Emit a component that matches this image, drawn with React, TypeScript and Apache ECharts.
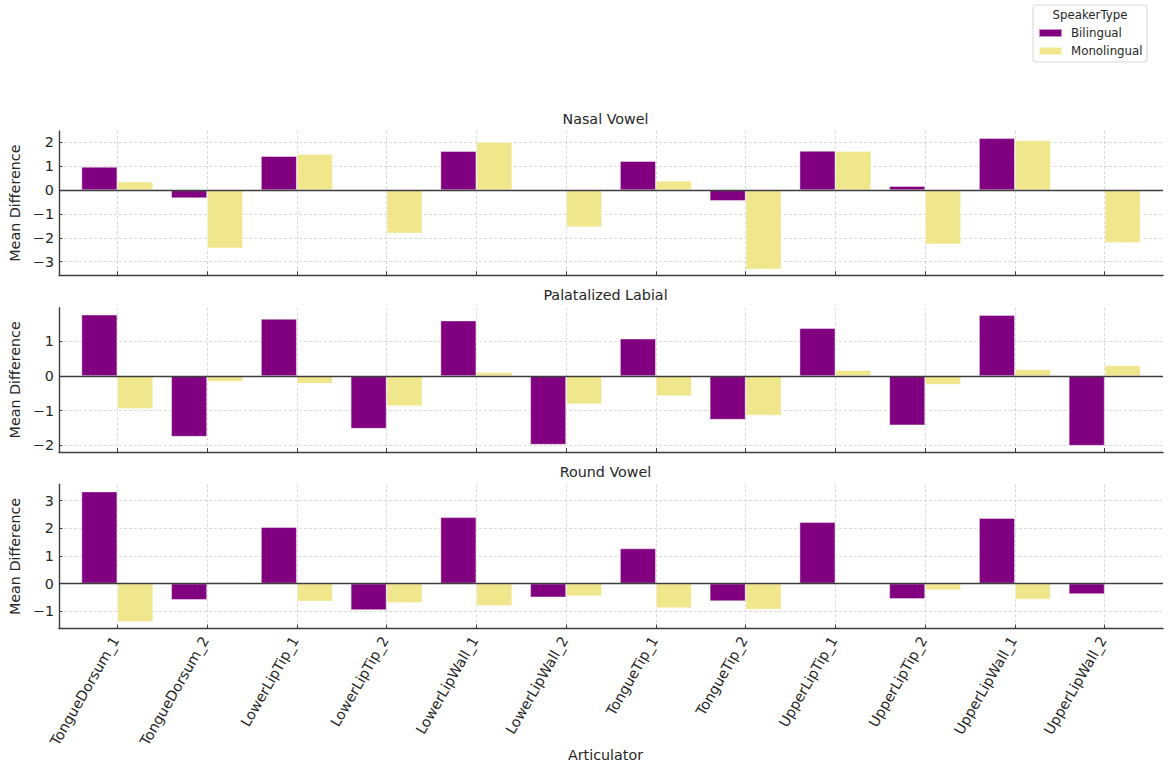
import React, { useEffect, useRef } from "react";
import * as echarts from "echarts";

const categories = [
  "TongueDorsum_1",
  "TongueDorsum_2",
  "LowerLipTip_1",
  "LowerLipTip_2",
  "LowerLipWall_1",
  "LowerLipWall_2",
  "TongueTip_1",
  "TongueTip_2",
  "UpperLipTip_1",
  "UpperLipTip_2",
  "UpperLipWall_1",
  "UpperLipWall_2",
];

const nasalBilingual = [0.98, -0.34, 1.43, -0.05, 1.64, 0.0, 1.22, -0.45, 1.65, 0.17, 2.18, 0.0];
const nasalMonolingual = [0.36, -2.44, 1.51, -1.81, 2.02, -1.55, 0.39, -3.32, 1.64, -2.27, 2.09, -2.21];

const palatalBilingual = [1.77, -1.75, 1.65, -1.52, 1.6, -1.98, 1.08, -1.26, 1.38, -1.42, 1.76, -2.01];
const palatalMonolingual = [-0.95, -0.16, -0.22, -0.87, 0.11, -0.81, -0.58, -1.14, 0.17, -0.25, 0.19, 0.31];

const roundBilingual = [3.33, -0.59, 2.04, -0.96, 2.4, -0.5, 1.27, -0.64, 2.22, -0.56, 2.37, -0.38];
const roundMonolingual = [-1.39, 0.05, -0.65, -0.7, -0.81, -0.46, -0.89, -0.94, 0.01, -0.24, -0.58, 0.0];

const panelTitles = ["Nasal Vowel", "Palatalized Labial", "Round Vowel"];
const yMins = [-3.57, -2.19, -1.63];
const yMaxs = [2.48, 1.97, 3.59];
const yTicks = [
  [-3, -2, -1, 0, 1, 2],
  [-2, -1, 0, 1],
  [-1, 0, 1, 2, 3],
];
const seriesNames = ["Bilingual", "Monolingual"];
const legendTitle = "SpeakerType";
const xAxisTitle = "Articulator";
const yAxisTitle = "Mean Difference";

const panelBilingual = [nasalBilingual, palatalBilingual, roundBilingual];
const panelMonolingual = [nasalMonolingual, palatalMonolingual, roundMonolingual];

const FONT = "DejaVu Sans";
const TEXT = "#262626";
const SPINE = "#3d3d3d";
const COLORS = ["#800080", "#F0E68C"];
const FS = 14.3;

function fmt(v: number): string {
  return v < 0 ? "\u2212" + Math.abs(v) : String(v);
}

export default function App() {
  const ref = useRef<HTMLDivElement>(null);

  useEffect(() => {
    if (!ref.current) return;
    const chart = echarts.init(ref.current, null, { renderer: "svg" });

    const gridTops = [131, 307.7, 484.3];
    const gridHeight = 144.3;
    const gridLeft = 48;
    const gridRight = 6;
    const centerX = gridLeft + (1169 - gridLeft - gridRight) / 2;
    const tickIdx = categories.map((_, i) => i);
    const gridLine = { color: "#d0d0d0", width: 0.8, type: [3, 2] as any };

    const grids: any[] = [];
    const xAxes: any[] = [];
    const yAxes: any[] = [];
    const series: any[] = [];
    const titles: any[] = [];

    for (let p = 0; p < 3; p++) {
      grids.push({ left: gridLeft, right: gridRight, top: gridTops[p], height: gridHeight });
      titles.push({
        text: panelTitles[p],
        left: centerX,
        textAlign: "center",
        top: gridTops[p] - 19.5,
        textStyle: { fontFamily: FONT, fontSize: FS, fontWeight: "normal", color: TEXT },
        padding: 0,
      });
      xAxes.push({
        type: "value",
        gridIndex: p,
        min: -0.65,
        max: 11.65,
        axisLine: { show: true, onZero: false, lineStyle: { color: SPINE, width: 1.4 } },
        axisTick: { show: true, inside: true, length: 4, customValues: tickIdx, lineStyle: { color: SPINE, width: 1 } },
        axisLabel: {
          show: p === 2,
          customValues: tickIdx,
          rotate: 60,
          margin: 6,
          padding: [0, 3.5, 12, 0],
          fontFamily: FONT,
          fontSize: FS,
          color: TEXT,
          formatter: (v: number) => categories[Math.round(v)] ?? "",
        },
        splitLine: { show: true, lineStyle: gridLine },
      });
      yAxes.push({
        type: "value",
        gridIndex: p,
        min: yMins[p],
        max: yMaxs[p],
        name: yAxisTitle,
        nameLocation: "middle",
        nameGap: 33,
        nameTextStyle: { fontFamily: FONT, fontSize: FS, color: TEXT },
        axisLine: { show: true, onZero: false, lineStyle: { color: SPINE, width: 1.4 } },
        axisTick: { show: true, inside: true, length: 3.5, customValues: yTicks[p], lineStyle: { color: SPINE, width: 1 } },
        axisLabel: {
          customValues: yTicks[p],
          margin: 5,
          fontFamily: FONT,
          fontSize: FS,
          color: TEXT,
          formatter: (v: number) => fmt(v),
        },
        splitLine: { show: true, lineStyle: gridLine },
      });
      const sets = [panelBilingual[p], panelMonolingual[p]];
      sets.forEach((vals, s) => {
        series.push({
          type: "bar",
          name: seriesNames[s],
          xAxisIndex: p,
          yAxisIndex: p,
          data: vals.map((v, j) => [j, v]),
          barWidth: "40%",
          barGap: "0%",
          itemStyle: { color: COLORS[s], borderColor: "rgba(255,255,255,0.55)", borderWidth: 0.8 },
          z: 2,
          markLine:
            s === 1
              ? {
                  silent: true,
                  symbol: "none",
                  label: { show: false },
                  lineStyle: { color: SPINE, width: 1.3, type: "solid" },
                  data: [{ yAxis: 0 }],
                  z: 5,
                }
              : undefined,
        });
      });
    }

    chart.setOption({
      animation: false,
      backgroundColor: "#ffffff",
      title: titles,
      grid: grids,
      xAxis: xAxes,
      yAxis: yAxes,
      series,
      legend: {
        data: seriesNames,
        orient: "vertical",
        left: 1038,
        top: 26,
        padding: 0,
        itemWidth: 23,
        itemHeight: 8,
        itemGap: 4,
        icon: "rect",
        textStyle: { fontFamily: FONT, fontSize: 11.8, color: TEXT, lineHeight: 14, padding: [0, 0, 0, 4] },
      },
      graphic: [
        {
          type: "rect",
          shape: { x: 1033, y: 5, width: 114, height: 57, r: 3 },
          style: { fill: "rgba(255,255,255,0.8)", stroke: "#d6d6d6", lineWidth: 1 },
          z: -1,
        },
        {
          type: "text",
          x: 1090,
          y: 15,
          style: {
            text: legendTitle,
            fontFamily: FONT,
            fontSize: 11.8,
            fill: TEXT,
            textAlign: "center",
            textVerticalAlign: "middle",
          },
        },
        {
          type: "text",
          x: centerX,
          y: 755,
          style: {
            text: xAxisTitle,
            fontFamily: FONT,
            fontSize: FS,
            fill: TEXT,
            textAlign: "center",
            textVerticalAlign: "middle",
          },
        },
      ],
    });

    return () => chart.dispose();
  }, []);

  return (
    <div
      ref={ref}
      style={{ position: "fixed", left: 0, top: 0, width: 1169, height: 765, background: "#fff" }}
    />
  );
}
